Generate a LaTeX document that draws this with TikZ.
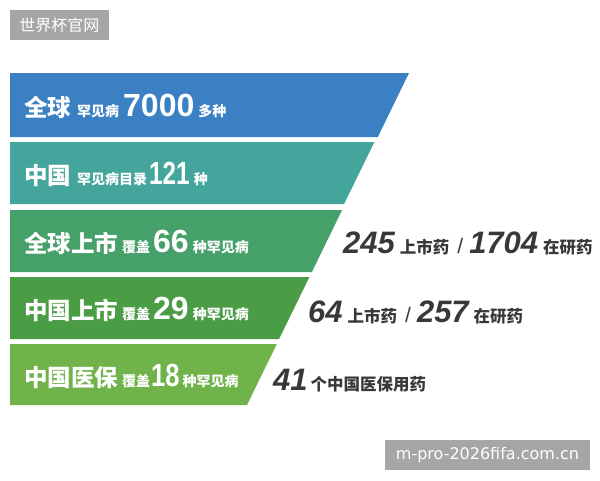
\documentclass[tikz,border=0pt]{standalone}
\usepackage{graphicx}
\usepackage{fontspec}
\setmainfont{Noto Sans CJK SC}
\newfontfamily\numfont{Liberation Sans}
\newfontfamily\wmfont{DejaVu Sans}
\definecolor{bandA}{HTML}{3A80C3}
\definecolor{bandB}{HTML}{44A59C}
\definecolor{bandC}{HTML}{46A06A}
\definecolor{bandD}{HTML}{4A9C45}
\definecolor{bandE}{HTML}{6FB34A}
\definecolor{wmgray}{HTML}{A6A6A6}
\definecolor{darktxt}{HTML}{383838}
\newcommand\bigtxt[1]{{\fontsize{23.5}{25}\selectfont\bfseries #1}}
\newcommand\smtxt[1]{{\fontsize{14}{15}\selectfont\bfseries #1}}
\newcommand\sidesm[1]{{\fontsize{16.5}{18}\selectfont\bfseries #1}}
\newcommand\numtxt[1]{{\numfont\fontsize{32}{34}\selectfont\bfseries #1}}
\newcommand\itnum[1]{{\numfont\fontsize{31}{33}\selectfont\bfseries\itshape #1}}
\newcommand\slashtxt{{\numfont\fontsize{21}{22}\selectfont /}}
\tikzset{
  rowtext/.style={anchor=base west, inner sep=0pt, text=white},
  sidetext/.style={anchor=base west, inner sep=0pt, text=darktxt},
  wmbox/.style={fill=wmgray, draw=none},
}
\begin{document}
\begin{tikzpicture}[x=1pt,y=-1pt]
\useasboundingbox (0,0) rectangle (600,480);
% watermark boxes
\fill[wmbox] (10,10) rectangle (109,40);
\node[inner sep=0pt, text=white] (wm1) at (59.5,25) {\fontsize{16}{17}\selectfont 世界杯官网};
\fill[wmbox] (385,440) rectangle (590,470);
\node[inner sep=0pt, text=white] (wm2) at (487.5,455) {\wmfont\fontsize{16}{17}\selectfont m-pro-2026fifa.com.cn};
% bands
\fill[bandA] (10,73) -- (409,73) -- (377.8,137) -- (10,137) -- cycle;
\fill[bandB] (10,142) -- (374.4,142) -- (344.1,204) -- (10,204) -- cycle;
\fill[bandC] (10,210) -- (342.1,210) -- (311.9,272) -- (10,272) -- cycle;
\fill[bandD] (10,277) -- (309.4,277) -- (279.1,339) -- (10,339) -- cycle;
\fill[bandE] (10,344) -- (276.8,344) -- (247.0,405) -- (10,405) -- cycle;
% band texts
\node[rowtext] (r1) at (24,116) {\bigtxt{全球}\hspace{6pt}\smtxt{罕见病}\hspace{4pt}\numtxt{7000}\hspace{4pt}\smtxt{多种}};
\node[rowtext] (r2) at (24,184) {\bigtxt{中国}\hspace{6pt}\smtxt{罕见病目录}\hspace{2pt}\scalebox{0.76}[1]{\numtxt{121}}\hspace{4pt}\smtxt{种}};
\node[rowtext] (r3) at (24,252) {\bigtxt{全球上市}\hspace{4pt}\smtxt{覆盖}\hspace{3pt}\numtxt{66}\hspace{4pt}\smtxt{种罕见病}};
\node[rowtext] (r4) at (24,319) {\bigtxt{中国上市}\hspace{4pt}\smtxt{覆盖}\hspace{3pt}\numtxt{29}\hspace{4pt}\smtxt{种罕见病}};
\node[rowtext] (r5) at (24,386) {\bigtxt{中国医保}\hspace{4pt}\smtxt{覆盖}\hspace{1pt}\scalebox{0.8}[1]{\numtxt{18}}\hspace{3pt}\smtxt{种罕见病}};
% side texts
\node[sidetext] (s1) at (343,253) {\itnum{245}\hspace{5pt}\sidesm{上市药}\hspace{8pt}\slashtxt\hspace{6pt}\itnum{1704}\hspace{5pt}\sidesm{在研药}};
\node[sidetext] (s2) at (308,322) {\itnum{64}\hspace{5pt}\sidesm{上市药}\hspace{8pt}\slashtxt\hspace{6pt}\itnum{257}\hspace{5pt}\sidesm{在研药}};
\node[sidetext] (s3) at (273,390) {\itnum{41}\hspace{3pt}\sidesm{个中国医保用药}};
\end{tikzpicture}
\end{document}
